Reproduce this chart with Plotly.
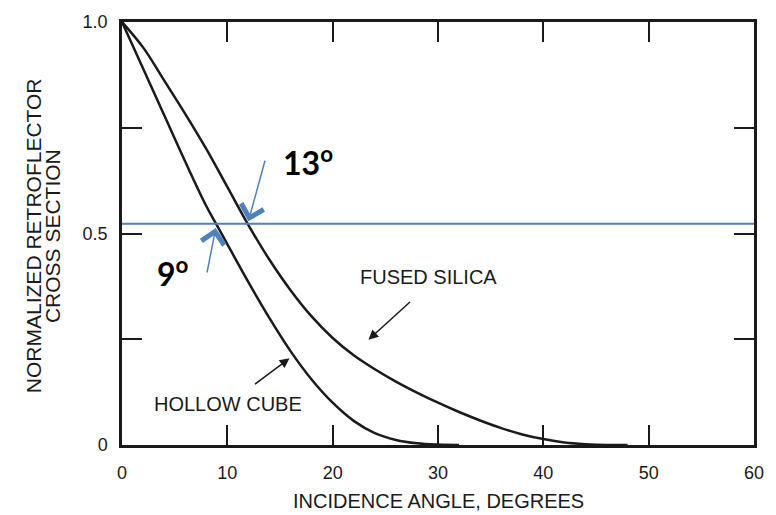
import plotly.graph_objects as go

# ---- data ----
hollow_x = [0, 2, 4, 6, 8, 9, 10, 12, 14, 16, 18, 20, 22, 24, 26, 28, 30, 32]
hollow_y = [1.0, 0.89, 0.78, 0.67, 0.565, 0.52, 0.475, 0.385, 0.30, 0.222, 0.155,
            0.10, 0.057, 0.028, 0.012, 0.004, 0.001, 0.0]

silica_x = [0, 2, 4, 6, 8, 10, 12, 14, 16, 18, 20, 22, 24, 26, 28, 30, 32, 34,
            36, 38, 40, 42, 44, 46, 48]
silica_y = [1.0, 0.94, 0.862, 0.783, 0.70, 0.61, 0.52, 0.438, 0.366, 0.304, 0.253,
            0.212, 0.179, 0.150, 0.124, 0.100, 0.078, 0.058, 0.040, 0.025, 0.014,
            0.006, 0.002, 0.0, 0.0]

level = 0.523            # horizontal reference line
hollow_cross = 8.9       # crossing angles marked by the blue arrows
silica_cross = 12.0

x_ticks = [0, 10, 20, 30, 40, 50, 60]
y_ticks = [0, 0.25, 0.5, 0.75, 1.0]
y_tick_text = ["0", "", "0.5", "", "1.0"]

FONT = "Liberation Sans, Arial, sans-serif"
INK = "#1a1a1a"
BLUE = "#4F81BD"

fig = go.Figure()
fig.add_trace(go.Scatter(x=hollow_x, y=hollow_y, mode="lines",
                         line=dict(color=INK, width=2.5, shape="spline", smoothing=1.0),
                         hoverinfo="skip", showlegend=False))
fig.add_trace(go.Scatter(x=silica_x, y=silica_y, mode="lines",
                         line=dict(color=INK, width=2.5, shape="spline", smoothing=1.0),
                         hoverinfo="skip", showlegend=False))

fig.add_shape(type="line", xref="x", yref="y", x0=0, x1=60, y0=level, y1=level,
              line=dict(color=BLUE, width=2))

ann = []
# blue arrows
ann.append(dict(x=silica_cross, y=level + 0.006, xref="x", yref="y", text="",
                showarrow=True, ax=17, ay=-62, arrowhead=4, arrowsize=3.0,
                arrowwidth=1.5, arrowcolor=BLUE, standoff=0))
ann.append(dict(x=hollow_cross, y=level - 0.01, xref="x", yref="y", text="",
                showarrow=True, ax=-9, ay=46, arrowhead=4, arrowsize=3.0,
                arrowwidth=1.5, arrowcolor=BLUE, standoff=0))
ann.append(dict(x=17.7, y=0.672, xref="x", yref="y", text="<b>13<sup>o</sup></b>",
                showarrow=False, font=dict(family="Lato, sans-serif", size=32, color="#000")))
ann.append(dict(x=4.8, y=0.41, xref="x", yref="y", text="<b>9<sup>o</sup></b>",
                showarrow=False, font=dict(family="Lato, sans-serif", size=32, color="#000")))
# black labels and arrows
ann.append(dict(x=29.1, y=0.396, xref="x", yref="y", text="FUSED SILICA",
                showarrow=False, font=dict(family=FONT, size=20, color=INK)))
ann.append(dict(x=10.1, y=0.098, xref="x", yref="y", text="HOLLOW CUBE",
                showarrow=False, font=dict(family=FONT, size=20, color=INK)))
ann.append(dict(x=23.4, y=0.249, xref="x", yref="y", text="", showarrow=True,
                ax=43, ay=-39, arrowhead=2, arrowsize=1.3, arrowwidth=1.5,
                arrowcolor=INK, standoff=0))
ann.append(dict(x=15.9, y=0.205, xref="x", yref="y", text="", showarrow=True,
                ax=-36, ay=27, arrowhead=2, arrowsize=1.3, arrowwidth=1.5,
                arrowcolor=INK, standoff=0))
# axis titles
ann.append(dict(x=0.5, y=-0.1326, xref="paper", yref="paper", text="INCIDENCE ANGLE, DEGREES",
                showarrow=False, xanchor="center", yanchor="middle",
                font=dict(family=FONT, size=20, color=INK)))
ann.append(dict(x=-0.1400, y=0.495, xref="paper", yref="paper", text="NORMALIZED RETROFLECTOR",
                showarrow=False, textangle=-90, xanchor="center", yanchor="middle",
                font=dict(family=FONT, size=21, color=INK)))
ann.append(dict(x=-0.1100, y=0.495, xref="paper", yref="paper", text="CROSS SECTION",
                showarrow=False, textangle=-90, xanchor="center", yanchor="middle",
                font=dict(family=FONT, size=21, color=INK)))

fig.update_layout(
    width=776, height=515,
    margin=dict(l=122, r=18, t=15, b=70),
    paper_bgcolor="white", plot_bgcolor="white",
    annotations=ann,
    xaxis=dict(range=[0, 60], tickvals=x_ticks, ticks="inside", ticklen=20, tickwidth=2,
               tickcolor=INK, showline=True, linewidth=2.5, linecolor=INK, mirror="ticks",
               showgrid=False, zeroline=False, ticklabelstandoff=10,
               tickfont=dict(family=FONT, size=18, color=INK)),
    yaxis=dict(range=[0, 1.0], tickvals=y_ticks, ticktext=y_tick_text, ticks="inside",
               ticklen=20, tickwidth=2, tickcolor=INK, showline=True, linewidth=2.5,
               linecolor=INK, mirror="ticks", showgrid=False, zeroline=False,
               ticklabelstandoff=8, tickfont=dict(family=FONT, size=18, color=INK)),
)

fig.write_html("out.html")
